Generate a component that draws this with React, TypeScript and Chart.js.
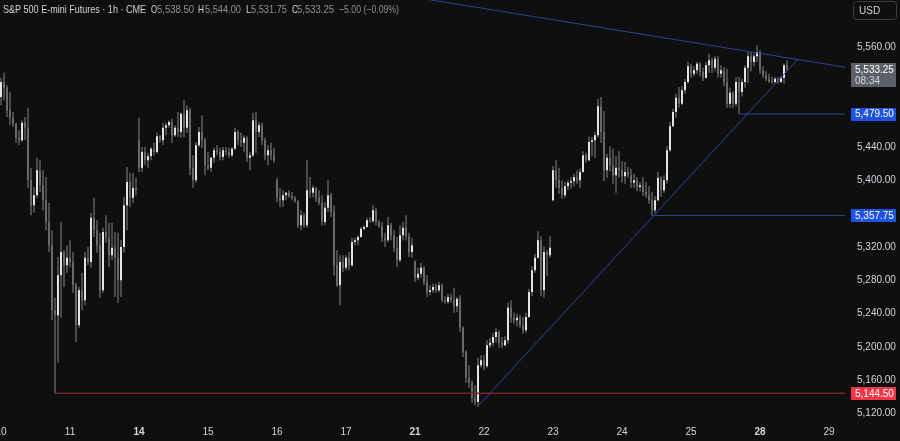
import React, { useEffect, useRef } from 'react';
import { Chart, registerables } from 'chart.js';

Chart.register(...registerables);

// ---- Data -------------------------------------------------------------
const dayLabels = ['10', '11', '14', '15', '16', '17', '21', '22', '23', '24', '25', '28', '29'];
const weekStartLabels = ['14', '21', '28'];
const barsPerDay = 23;
const priceTicks = [5120, 5160, 5200, 5240, 5280, 5320, 5360, 5400, 5440, 5480, 5520, 5560, 5600];
const hiddenPriceTicks = [5360, 5480, 5520, 5600];

const opens = [
  5500, 5518, 5511, 5484, 5475, 5468, 5451, 5448, 5469, 5463, 5400, 5370, 5382, 5412, 5394, 5376, 5350, 5322, 5244, 5238, 5286, 5314, 5298,
  5307, 5302, 5274, 5226, 5268, 5256, 5307, 5302, 5355, 5340, 5322, 5268, 5338, 5331, 5310, 5319, 5307, 5280, 5320, 5370, 5398, 5379, 5391,
  5448, 5415, 5434, 5424, 5429, 5438, 5434, 5453, 5448, 5463, 5466, 5470, 5454, 5463, 5458, 5480, 5463, 5484, 5415, 5400, 5442, 5458, 5448,
  5418, 5415, 5427, 5436, 5434, 5428, 5436, 5434, 5430, 5438, 5458, 5448, 5445, 5451, 5427, 5430, 5472, 5458, 5466, 5448, 5430, 5436, 5430,
  5400, 5379, 5376, 5382, 5385, 5381, 5379, 5375, 5346, 5358, 5346, 5388, 5385, 5391, 5379, 5373, 5350, 5367, 5382, 5362, 5298, 5274, 5302,
  5295, 5307, 5298, 5326, 5328, 5332, 5342, 5344, 5352, 5351, 5364, 5350, 5345, 5331, 5328, 5346, 5334, 5319, 5304, 5334, 5343, 5333, 5314,
  5302, 5283, 5288, 5295, 5278, 5266, 5268, 5272, 5268, 5274, 5256, 5254, 5260, 5256, 5249, 5258, 5223, 5194, 5163, 5157, 5139, 5134, 5178,
  5184, 5177, 5202, 5205, 5212, 5218, 5205, 5202, 5208, 5247, 5235, 5232, 5235, 5226, 5220, 5236, 5266, 5292, 5307, 5328, 5268, 5314, 5310,
  5376, 5412, 5400, 5391, 5382, 5393, 5397, 5399, 5404, 5400, 5410, 5430, 5424, 5446, 5448, 5454, 5489, 5458, 5412, 5427, 5418, 5406, 5415,
  5412, 5405, 5410, 5406, 5397, 5400, 5392, 5394, 5386, 5382, 5376, 5364, 5376, 5403, 5388, 5400, 5436, 5465, 5482, 5499, 5492, 5508, 5518,
  5537, 5528, 5532, 5540, 5530, 5523, 5538, 5544, 5535, 5546, 5528, 5532, 5518, 5492, 5505, 5492, 5518, 5506, 5518, 5535, 5549, 5542, 5549,
  5554, 5532, 5526, 5522, 5519, 5518, 5522, 5518, 5523, 5538.5,
];
const highs = [
  5523, 5529, 5514, 5506, 5482, 5469, 5460, 5472, 5476, 5487, 5415, 5392, 5427, 5424, 5412, 5404, 5373, 5340, 5259, 5308, 5350, 5316, 5322,
  5328, 5314, 5277, 5272, 5289, 5314, 5320, 5361, 5379, 5352, 5337, 5343, 5358, 5349, 5349, 5338, 5337, 5328, 5380, 5416, 5409, 5409, 5403,
  5475, 5440, 5440, 5433, 5440, 5445, 5457, 5454, 5469, 5469, 5472, 5474, 5466, 5482, 5481, 5496, 5490, 5487, 5430, 5446, 5464, 5478, 5451,
  5434, 5428, 5439, 5442, 5439, 5440, 5440, 5439, 5440, 5463, 5460, 5457, 5454, 5453, 5434, 5481, 5482, 5470, 5469, 5451, 5442, 5445, 5439,
  5403, 5391, 5388, 5386, 5388, 5386, 5381, 5376, 5364, 5361, 5424, 5404, 5394, 5392, 5388, 5382, 5374, 5400, 5385, 5370, 5316, 5310, 5310,
  5310, 5314, 5331, 5331, 5334, 5344, 5346, 5355, 5356, 5370, 5367, 5352, 5350, 5337, 5356, 5349, 5340, 5332, 5346, 5350, 5358, 5337, 5331,
  5304, 5295, 5301, 5297, 5286, 5274, 5276, 5276, 5278, 5276, 5261, 5264, 5264, 5271, 5260, 5262, 5225, 5196, 5178, 5160, 5154, 5187, 5190,
  5190, 5208, 5211, 5217, 5223, 5220, 5212, 5213, 5253, 5256, 5241, 5240, 5238, 5236, 5241, 5270, 5297, 5312, 5339, 5333, 5321, 5316, 5333,
  5417, 5424, 5415, 5400, 5398, 5400, 5404, 5408, 5412, 5414, 5435, 5433, 5453, 5452, 5458, 5498, 5500, 5483, 5432, 5441, 5438, 5429, 5435,
  5423, 5422, 5416, 5414, 5408, 5404, 5398, 5404, 5398, 5393, 5386, 5381, 5410, 5405, 5406, 5441, 5470, 5486, 5504, 5512, 5513, 5522, 5542,
  5540, 5537, 5542, 5542, 5535, 5542, 5552, 5547, 5549, 5549, 5538, 5536, 5534, 5511, 5507, 5524, 5524, 5522, 5538, 5554, 5554, 5552, 5562,
  5556, 5537, 5531, 5528, 5524, 5524, 5524, 5525, 5540, 5544,
];
const lows = [
  5490, 5496, 5476, 5466, 5464, 5445, 5442, 5446, 5448, 5391, 5358, 5361, 5379, 5386, 5364, 5340, 5314, 5232, 5144.5, 5181, 5235, 5272, 5289,
  5296, 5265, 5206, 5223, 5244, 5250, 5298, 5295, 5332, 5313, 5259, 5265, 5325, 5296, 5304, 5260, 5253, 5260, 5313, 5340, 5368, 5373, 5382,
  5410, 5410, 5418, 5415, 5424, 5430, 5432, 5445, 5442, 5454, 5463, 5445, 5452, 5452, 5451, 5452, 5457, 5406, 5391, 5397, 5440, 5439, 5406,
  5412, 5410, 5421, 5430, 5424, 5424, 5430, 5427, 5428, 5436, 5442, 5440, 5434, 5422, 5412, 5428, 5433, 5452, 5442, 5424, 5418, 5424, 5421,
  5374, 5368, 5368, 5376, 5379, 5376, 5373, 5343, 5340, 5343, 5343, 5379, 5380, 5374, 5370, 5346, 5346, 5362, 5356, 5286, 5272, 5250, 5290,
  5292, 5292, 5296, 5322, 5322, 5331, 5340, 5343, 5349, 5349, 5346, 5343, 5326, 5320, 5326, 5328, 5314, 5296, 5302, 5328, 5328, 5308, 5307,
  5278, 5280, 5283, 5274, 5260, 5262, 5265, 5265, 5266, 5254, 5252, 5252, 5253, 5241, 5242, 5218, 5188, 5157, 5151, 5133, 5130, 5128, 5175,
  5172, 5175, 5199, 5201, 5205, 5199, 5199, 5201, 5204, 5229, 5228, 5225, 5223, 5216, 5217, 5235, 5261, 5289, 5306, 5261, 5259, 5285, 5307,
  5375, 5391, 5384, 5378, 5379, 5388, 5390, 5393, 5396, 5391, 5409, 5421, 5423, 5429, 5427, 5451, 5445, 5399, 5403, 5411, 5396, 5385, 5403,
  5397, 5396, 5403, 5391, 5391, 5387, 5387, 5381, 5379, 5372, 5357.75, 5361, 5375, 5380, 5385, 5396, 5434, 5464, 5475, 5487, 5490, 5504, 5516,
  5523, 5525, 5528, 5525, 5519, 5522, 5529, 5529, 5531, 5523, 5523, 5513, 5487, 5487, 5487, 5489, 5479.5, 5501, 5511, 5517, 5531, 5537, 5542,
  5528, 5523, 5519, 5517, 5516, 5516, 5516, 5517, 5516, 5531.75,
];
const closes = [
  5518, 5511, 5484, 5475, 5468, 5451, 5448, 5469, 5463, 5400, 5370, 5382, 5412, 5394, 5376, 5350, 5322, 5244, 5238, 5286, 5314, 5298, 5307,
  5302, 5274, 5226, 5268, 5256, 5307, 5302, 5355, 5340, 5322, 5268, 5338, 5331, 5310, 5319, 5307, 5280, 5320, 5370, 5398, 5379, 5391, 5388,
  5415, 5434, 5424, 5429, 5438, 5434, 5453, 5448, 5463, 5466, 5470, 5454, 5463, 5458, 5480, 5463, 5484, 5415, 5400, 5442, 5458, 5448, 5418,
  5415, 5427, 5436, 5434, 5428, 5436, 5434, 5430, 5438, 5458, 5448, 5445, 5451, 5427, 5430, 5472, 5458, 5466, 5448, 5430, 5436, 5430, 5424,
  5379, 5376, 5382, 5385, 5381, 5379, 5375, 5346, 5358, 5346, 5388, 5385, 5391, 5379, 5373, 5350, 5367, 5382, 5362, 5298, 5274, 5302, 5295,
  5307, 5298, 5326, 5328, 5332, 5342, 5344, 5352, 5351, 5364, 5350, 5345, 5331, 5328, 5346, 5334, 5319, 5304, 5334, 5343, 5333, 5314, 5322,
  5283, 5288, 5295, 5278, 5266, 5268, 5272, 5268, 5274, 5256, 5254, 5260, 5256, 5249, 5258, 5223, 5194, 5163, 5157, 5139, 5134, 5178, 5184,
  5177, 5202, 5205, 5212, 5218, 5205, 5202, 5208, 5247, 5235, 5232, 5235, 5226, 5220, 5236, 5266, 5292, 5307, 5328, 5268, 5314, 5310, 5319,
  5412, 5400, 5391, 5382, 5393, 5397, 5399, 5404, 5400, 5410, 5430, 5424, 5446, 5448, 5454, 5489, 5458, 5412, 5427, 5418, 5406, 5415, 5412,
  5405, 5410, 5406, 5397, 5400, 5392, 5394, 5386, 5382, 5376, 5364, 5376, 5403, 5388, 5400, 5436, 5465, 5482, 5499, 5492, 5508, 5518, 5537,
  5528, 5532, 5540, 5530, 5523, 5538, 5544, 5535, 5546, 5528, 5532, 5518, 5492, 5505, 5492, 5518, 5506, 5518, 5535, 5549, 5542, 5549, 5554,
  5532, 5526, 5522, 5519, 5518, 5522, 5518, 5523, 5538, 5533.25,
];

// drawn levels / trendlines (bar index, price)
const supportLevel = 5144.5;
const supportStart = 18;
const level1 = 5479.5;
const level1Start = 246;
const level2 = 5357.75;
const level2Start = 217;
const risingLine = [{ x: 159, y: 5129 }, { x: 265.67, y: 5545.6 }];
const fallingLine = [{ x: 130, y: 5624.3 }, { x: 281.33, y: 5535.8 }];
const lastPrice = 5533.25;
const countdown = '08:34';
const headerTitle = 'S&P 500 E-mini Futures · 1h · CME';
const headerValues = { O: '5,538.50', H: '5,544.00', L: '5,531.75', C: '5,533.25', chg: '−5.00 (−0.09%)' };

// ---- Styling ----------------------------------------------------------
const BG = '#0f0f0f';
const UP = '#e4e4e4';
const DOWN = '#6a6a6a';
const WICK = '#858585';
const BLUE_LINE = '#2b4595';
const RED_LINE = '#7c1f28';
const TEXT = '#d1d4dc';
const FONT = "'Liberation Sans', Arial, sans-serif";

const X_MIN = -1 / 3;
const X_MAX = 281 + 1 / 3;
const Y_MIN = 5111.2;
const Y_MAX = 5616.4;

const fmt = (v: number) =>
  v.toLocaleString('en-US', { minimumFractionDigits: 2, maximumFractionDigits: 2 });

const overlay = {
  id: 'overlay',
  beforeDraw(chart: any) {
    const { ctx, width, height } = chart;
    ctx.save();
    ctx.fillStyle = BG;
    ctx.fillRect(0, 0, width, height);
    ctx.restore();
  },
  afterDraw(chart: any) {
    const { ctx, chartArea } = chart;
    const y = chart.scales.y;
    ctx.save();
    ctx.textBaseline = 'middle';

    // header
    ctx.font = `11px ${FONT}`;
    const gray = '#8d9097';
    const segs: [number, string, string, number][] = [
      [3, headerTitle, TEXT, 143],
      [151, 'O', TEXT, 6],
      [157, headerValues.O, gray, 37],
      [198, 'H', TEXT, 6],
      [205, headerValues.H, gray, 36],
      [246, 'L', TEXT, 5],
      [251, headerValues.L, gray, 36],
      [292, 'C', TEXT, 6],
      [297, headerValues.C, gray, 37],
      [339, headerValues.chg, gray, 60],
    ];
    ctx.textAlign = 'left';
    for (const [x, t, c, w] of segs) {
      ctx.fillStyle = c;
      ctx.fillText(t, x, 10, w);
    }

    ctx.font = `10px ${FONT}`;
    const bx = chartArea.right + 6;
    const bw = 45;
    const tag = (price: number, bg: string, fg: string) => {
      const py = y.getPixelForValue(price);
      ctx.fillStyle = bg;
      ctx.fillRect(bx, Math.round(py - 6.5), bw, 13);
      ctx.fillStyle = fg;
      ctx.fillText(fmt(price), bx + 4, py + 0.5, bw - 6);
    };
    tag(level1, '#1f52e0', '#ffffff');
    tag(level2, '#1f52e0', '#ffffff');
    tag(supportLevel, '#f23645', '#ffffff');

    // last price with countdown
    const ly = y.getPixelForValue(lastPrice);
    ctx.fillStyle = '#5d6068';
    ctx.fillRect(bx, Math.round(ly - 6.5), bw, 24);
    ctx.fillStyle = '#ffffff';
    ctx.fillText(fmt(lastPrice), bx + 4, ly + 0.5, bw - 6);
    ctx.fillStyle = '#d8d8d8';
    ctx.fillText(countdown, bx + 4, ly + 11.5, bw - 6);

    // USD button
    ctx.strokeStyle = '#3d3d3d';
    ctx.lineWidth = 1;
    ctx.beginPath();
    if ((ctx as any).roundRect) (ctx as any).roundRect(853.5, 1.5, 43, 18, 3);
    else ctx.rect(853.5, 1.5, 43, 18);
    ctx.stroke();
    ctx.fillStyle = TEXT;
    ctx.fillText('USD', 859, 11);
    ctx.restore();
  },
};

export default function App() {
  const ref = useRef<HTMLCanvasElement>(null);

  useEffect(() => {
    const idx = opens.map((_, i) => i);
    const isUp = (i: number) => closes[i] >= opens[i];
    const dayTicks = dayLabels.map((_, k) => k * barsPerDay);

    const hLine = (start: number, price: number) => [
      { x: start, y: price },
      { x: X_MAX, y: price },
    ];
    const lineDs = (data: any[], color: string, width: number) => ({
      type: 'line' as const,
      data,
      borderColor: color,
      borderWidth: width,
      pointRadius: 0,
      fill: false,
      tension: 0,
      order: 0,
    });

    const chart = new Chart(ref.current as HTMLCanvasElement, {
      type: 'bar',
      data: {
        datasets: [
          lineDs(hLine(supportStart, supportLevel), RED_LINE, 1.5),
          lineDs(hLine(level1Start, level1), BLUE_LINE, 1),
          lineDs(hLine(level2Start, level2), BLUE_LINE, 1),
          lineDs(risingLine, BLUE_LINE, 1),
          lineDs(fallingLine, BLUE_LINE, 1),
          {
            type: 'bar' as const,
            data: idx.map((i) => ({ x: i, y: [opens[i], closes[i]] })),
            backgroundColor: (c: any) => (isUp(c.dataIndex) ? UP : DOWN),
            barThickness: 2,
            minBarLength: 1,
            grouped: false,
            inflateAmount: 0,
            borderWidth: 0,
            order: 1,
          },
          {
            type: 'bar' as const,
            data: idx.map((i) => ({ x: i, y: [lows[i], highs[i]] })),
            backgroundColor: WICK,
            barThickness: 1,
            grouped: false,
            inflateAmount: 0,
            borderWidth: 0,
            order: 2,
          },
        ] as any,
      },
      options: {
        animation: false,
        responsive: false,
        devicePixelRatio: 1,
        layout: { padding: 0 },
        events: [],
        plugins: {
          legend: { display: false },
          tooltip: { enabled: false },
        },
        scales: {
          x: {
            type: 'linear',
            min: X_MIN,
            max: X_MAX,
            offset: false,
            grid: { display: false, drawTicks: false },
            border: { display: false },
            afterBuildTicks: (s: any) => {
              s.ticks = dayTicks.map((v) => ({ value: v }));
            },
            afterFit: (s: any) => {
              s.height = 20;
              s.paddingLeft = 0;
              s.paddingRight = 0;
            },
            ticks: {
              autoSkip: false,
              maxRotation: 0,
              padding: 5,
              color: TEXT,
              font: (c: any) => ({
                family: FONT,
                size: 10,
                weight: weekStartLabels.includes(dayLabels[c.index]) ? 'bold' : 'normal',
              }),
              callback: (_v: any, i: number) => dayLabels[i],
            },
          },
          y: {
            type: 'linear',
            position: 'right',
            min: Y_MIN,
            max: Y_MAX,
            grid: { display: false, drawTicks: false },
            border: { display: false },
            afterBuildTicks: (s: any) => {
              s.ticks = priceTicks.map((v) => ({ value: v }));
            },
            afterFit: (s: any) => {
              s.width = 55;
              s.paddingTop = 0;
              s.paddingBottom = 0;
            },
            ticks: {
              padding: 12,
              color: TEXT,
              font: { family: FONT, size: 10 },
              callback: (v: any) => (hiddenPriceTicks.includes(v) ? '' : fmt(v)),
            },
          },
        },
      } as any,
      plugins: [overlay],
    });
    return () => chart.destroy();
  }, []);

  return (
    <div style={{ position: 'fixed', left: 0, top: 0, width: 900, height: 441, background: BG }}>
      <canvas ref={ref} width={900} height={441} style={{ display: 'block', width: 900, height: 441 }} />
    </div>
  );
}
